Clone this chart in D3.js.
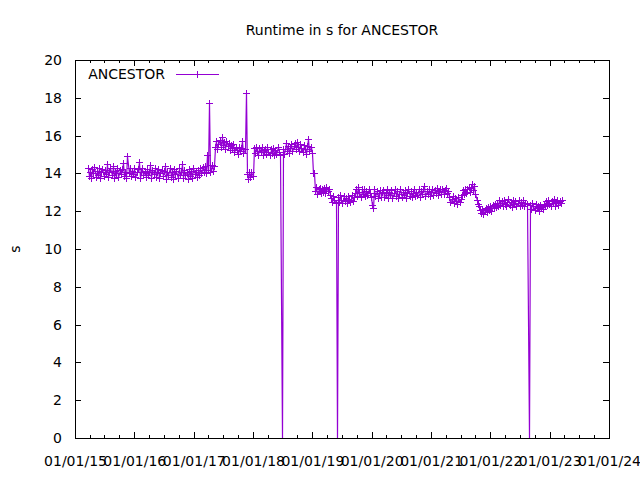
<!DOCTYPE html>
<html><head><meta charset="utf-8">
<script src="https://cdn.jsdelivr.net/npm/d3@7"></script>
<style>body{margin:0;background:#fff}svg{display:block}text{font-family:"DejaVu Sans",sans-serif}</style>
</head><body><svg id="c" width="640" height="480"></svg>
<script>
const chartTitle = "Runtime in s for ANCESTOR";
const seriesName = "ANCESTOR";
const yAxisLabel = "s";
const startDate = "2015-03-20";
const stepDays = 7;
// weekly runtime values (s)
const a1 = [14.3,13.85,14.1,13.75,14.25,14.0,14.35,13.8,14.15,13.9,14.3,13.75,14.05,14.25,13.85,14.2,13.95,14.5,13.8,14.1,14.3,13.9,14.4,13.75,14.15,14.0,14.3,13.8,14.2,13.95,14.25,14.55,13.85,14.1,13.75,14.9,14.0,14.3,13.85,14.15,13.95,14.3,13.8,14.1,14.25,14.6,13.75,14.05,14.3,13.9,14.15,13.8];
const a2 = [14.25,13.9,14.05,14.45,13.75,14.2,13.95,14.3,13.8,14.1,14.25,13.75,14.0,14.2,13.85,14.15,14.4,13.7,14.1,13.9,14.3,13.8,14.05,13.7,14.25,13.95,14.15,13.75,14.3,13.9,14.05,14.5,13.75,14.2,13.9,14.1,13.7,14.25,13.85,14.15,13.75,14.3,13.95,14.1,13.8,14.2,13.9,14.3,14.0,14.35,14.05,14.4];
const a3 = [14.0,15.0,14.2,17.75,14.05,14.45,14.15,14.4,15.4,15.7,15.3,15.55,15.75,15.4,15.95,15.5,15.65,15.3,15.7,15.45,15.6,15.25,15.5,15.35,15.55,15.15,15.4,15.25,15.05,15.4,15.2,15.35,15.7,15.1,15.3,18.25,13.95,13.7,14.1,13.8,14.05,13.85,15.35,15.1,15.4,15.2,15.0,15.35,15.15,15.4,15.0,15.25];
const a4 = [15.3,15.05,15.4,15.15,14.95,15.3,15.1,15.35,15.0,15.25,15.05,15.4,15.15,15.0,7.5,0,15.3,15.05,15.6,15.2,15.45,15.1,15.35,15.55,15.2,15.45,15.6,15.3,15.65,15.4,15.2,15.55,15.35,15.15,15.5,15.3,15.05,15.45,15.8,15.2,15.4,15.1,14.0,14.0,13.05,13.3,12.9,13.15,13.25,12.95,13.2,13.0];
const a5 = [13.25,12.95,13.3,13.05,13.2,12.85,12.7,12.5,12.8,12.6,12.45,0,12.75,12.5,12.85,12.6,12.45,12.8,12.55,12.7,12.45,12.8,12.6,12.5,12.85,12.55,12.75,12.95,13.2,12.8,13.3,13.0,12.75,13.15,12.9,13.2,12.8,13.05,12.85,13.2,12.95,12.75,12.35,12.15,13.2,12.8,13.05,12.7,12.95,13.1,12.75,13.0];
const a6 = [13.1,12.75,12.95,13.15,12.7,13.0,12.85,13.1,12.7,12.95,13.15,12.8,13.05,12.7,12.9,13.15,12.75,13.0,12.85,13.1,12.7,12.95,13.15,12.8,13.05,12.75,12.95,13.2,12.8,13.0,12.85,13.15,12.75,13.05,12.9,13.2,13.35,12.8,13.05,12.9,13.2,12.8,13.0,13.15,12.85,13.1,12.95,13.25,12.85,13.05,13.2,12.9];
const a7 = [13.2,12.9,13.1,13.25,12.95,13.05,12.75,12.5,12.65,12.8,12.45,12.7,12.55,12.4,12.75,12.5,12.65,12.85,13.1,12.9,13.2,12.95,13.15,13.3,13.0,13.25,13.45,13.1,13.35,12.9,12.6,12.4,12.25,12.05,11.9,12.1,11.85,12.05,12.15,11.95,12.2,12.05,12.3,12.0,12.35,12.15,12.4,12.2,12.45,12.25,12.6,12.35];
const a8 = [12.55,12.3,12.6,12.4,12.25,12.5,12.65,12.35,12.5,12.2,12.6,12.4,12.55,12.3,12.45,12.6,12.25,12.5,12.35,12.6,12.3,12.45,12.4,6.3,0,12.35,12.1,12.45,12.25,12.05,12.4,12.15,12.3,12.0,12.35,12.2,12.1,12.4,12.3,12.55,12.35,12.6,12.4,12.25,12.55,12.45,12.65,12.3,12.5,12.6,12.35,12.55,12.45,12.6];
const yTickValues = [0,2,4,6,8,10,12,14,16,18,20];
const xTickLabels = ["01/01/15","01/01/16","01/01/17","01/01/18","01/01/19","01/01/20","01/01/21","01/01/22","01/01/23","01/01/24"];

const parseLabel = d3.utcParse("%m/%d/%y");
const xTickDates = xTickLabels.map(parseLabel);
const values = [].concat(a1,a2,a3,a4,a5,a6,a7,a8);
const t0 = d3.utcParse("%Y-%m-%d")(startDate);
const data = values.map((v,i)=>({date:d3.utcDay.offset(t0,i*stepDays), value:v}));

const svg = d3.select("#c");
const L=75,R=609,T=60,B=438;
const x = d3.scaleUtc().domain([xTickDates[0], xTickDates[xTickDates.length-1]]).range([L,R]);
const y = d3.scaleLinear().domain([0,20]).range([B,T]);
const color = "#9400d3";
const minorDates = d3.utcMonth.every(3).range(xTickDates[0], xTickDates[xTickDates.length-1]).filter(d=>d.getUTCMonth()!==0);

function styleAxis(g){ g.select(".domain").remove(); g.selectAll("line").attr("stroke","#000").attr("shape-rendering","crispEdges"); g.selectAll("text").attr("font-size",14).attr("fill","#000").attr("font-family","DejaVu Sans"); }

svg.append("g").attr("transform",`translate(0,${B})`).call(d3.axisBottom(x).tickValues(xTickDates).tickFormat(d3.utcFormat("%m/%d/%y")).tickSizeInner(-6).tickSizeOuter(0).tickPadding(18)).call(styleAxis);
svg.append("g").attr("transform",`translate(0,${B})`).call(d3.axisBottom(x).tickValues(minorDates).tickFormat("").tickSizeInner(-3).tickSizeOuter(0)).call(styleAxis);
svg.append("g").attr("transform",`translate(0,${T})`).call(d3.axisTop(x).tickValues(xTickDates).tickFormat("").tickSizeInner(-6).tickSizeOuter(0)).call(styleAxis);
svg.append("g").attr("transform",`translate(0,${T})`).call(d3.axisTop(x).tickValues(minorDates).tickFormat("").tickSizeInner(-3).tickSizeOuter(0)).call(styleAxis);
svg.append("g").attr("transform",`translate(${L},0)`).call(d3.axisLeft(y).tickValues(yTickValues).tickSizeInner(-6).tickSizeOuter(0).tickPadding(13)).call(styleAxis);
svg.append("g").attr("transform",`translate(${R},0)`).call(d3.axisRight(y).tickValues(yTickValues).tickFormat("").tickSizeInner(-6).tickSizeOuter(0)).call(styleAxis);

const px = d=>Math.round(x(d.date))+0.5, py = d=>Math.round(y(d.value))+0.5;
const line = d3.line().x(px).y(py);
svg.append("path").datum(data).attr("d",line).attr("fill","none").attr("stroke",color).attr("stroke-width",1.2);
// markers are not visible on the failed-run drops in the original
svg.append("path").attr("d", data.filter(d=>d.value>=10).map(d=>`M${px(d)-3.5},${py(d)}h7M${px(d)},${py(d)-3.5}v7`).join(""))
  .attr("fill","none").attr("stroke",color).attr("stroke-width",1).attr("shape-rendering","crispEdges");

svg.append("rect").attr("x",L+0.5).attr("y",T+0.5).attr("width",R-L).attr("height",B-T).attr("fill","none").attr("stroke","#000").attr("shape-rendering","crispEdges");

svg.append("text").attr("x",(L+R)/2).attr("y",35).attr("text-anchor","middle").attr("font-size",14).text(chartTitle);
svg.append("text").attr("transform","translate(20,249) rotate(-90)").attr("text-anchor","middle").attr("font-size",14).text(yAxisLabel);
svg.append("text").attr("x",165).attr("y",79).attr("text-anchor","end").attr("font-size",14).text(seriesName);
svg.append("line").attr("x1",176).attr("x2",219).attr("y1",74.5).attr("y2",74.5).attr("stroke",color).attr("shape-rendering","crispEdges");
svg.append("path").attr("d","M194,74.5h7M197.5,71v7").attr("fill","none").attr("stroke",color).attr("shape-rendering","crispEdges");
</script></body></html>
